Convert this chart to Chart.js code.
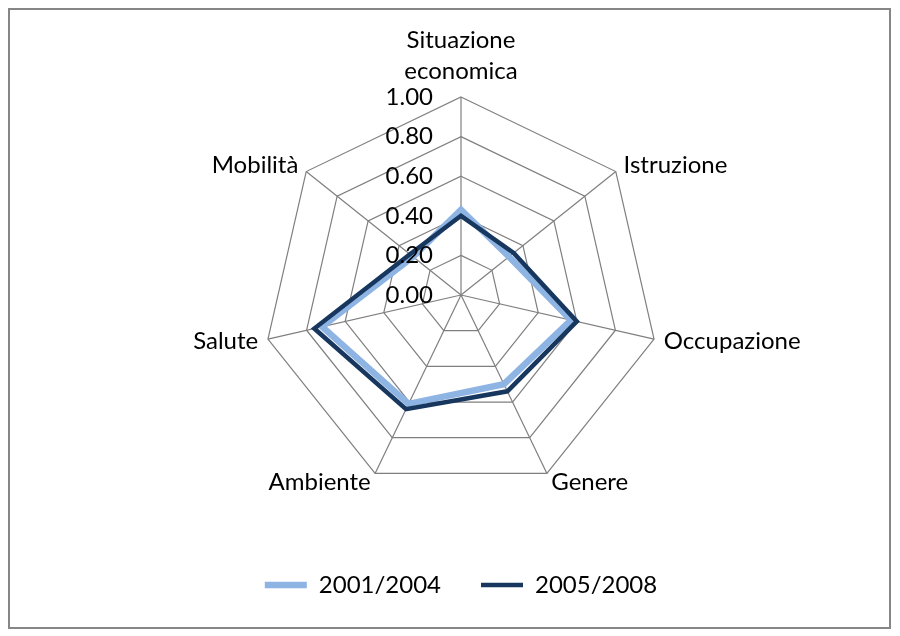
<!DOCTYPE html>
<html>
<head>
<meta charset="utf-8">
<script src="https://cdn.jsdelivr.net/npm/chart.js@4/dist/chart.umd.min.js"></script>
<style>
  html, body { margin: 0; padding: 0; background: #fff; }
</style>
</head>
<body>
<canvas id="radarChart" width="900" height="636"></canvas>
<script>
// Axes of the radar (first one is split on two lines)
const categories = [['Situazione', 'economica'], 'Istruzione', 'Occupazione', 'Genere', 'Ambiente', 'Salute', 'Mobilità'];

// Series values
const seriesNames = ['2001/2004', '2005/2008'];
const values2001 = [0.43, 0.31, 0.57, 0.50, 0.61, 0.72, 0.31];
const values2005 = [0.40, 0.34, 0.60, 0.54, 0.64, 0.76, 0.33];

// Radial tick labels
const tickValues = [0, 0.2, 0.4, 0.6, 0.8, 1.0];

const FONT = 'Lato, "Open Sans", sans-serif';

// Draws the frame, the axis labels and the tick labels (Excel style)
const excelLabels = {
  id: 'excelLabels',
  beforeDraw(chart) {
    const ctx = chart.ctx;
    ctx.save();
    ctx.strokeStyle = '#868686';
    ctx.lineWidth = 2;
    ctx.strokeRect(9, 9, 881, 619);
    ctx.restore();
  },
  afterDraw(chart) {
    const scale = chart.scales.r;
    const ctx = chart.ctx;
    ctx.save();
    ctx.fillStyle = '#000';
    ctx.font = '24px ' + FONT;

    // category labels just outside the outer ring
    categories.forEach((label, i) => {
      const p = scale.getPointPosition(i, scale.drawingArea + 10);
      const lines = Array.isArray(label) ? label : [label];
      if (Math.abs(p.x - scale.xCenter) < 1) {
        ctx.textAlign = 'center';
        ctx.textBaseline = 'alphabetic';
        for (let k = 0; k < lines.length; k++) {
          ctx.fillText(lines[lines.length - 1 - k], p.x, p.y - 8 - k * 31);
        }
      } else {
        ctx.textAlign = p.x > scale.xCenter ? 'left' : 'right';
        ctx.textBaseline = 'middle';
        ctx.fillText(lines[0], p.x, p.y);
      }
    });

    // tick labels on the left of the vertical axis
    ctx.textAlign = 'right';
    ctx.textBaseline = 'middle';
    scale.ticks.forEach(t => {
      const y = scale.yCenter - scale.getDistanceFromCenterForValue(t.value);
      ctx.fillText(t.value.toFixed(2), scale.xCenter - 28, y);
    });
    ctx.restore();
  }
};

const ctx = document.getElementById('radarChart').getContext('2d');
const chart = new Chart(ctx, {
  type: 'radar',
  data: {
    labels: categories,
    datasets: [
      {
        label: seriesNames[0],
        data: values2001,
        borderColor: '#8EB4E3',
        backgroundColor: '#8EB4E3',
        borderWidth: 6.5,
        fill: false,
        order: 1 // drawn below the dark line
      },
      {
        label: seriesNames[1],
        data: values2005,
        borderColor: '#17375E',
        backgroundColor: '#17375E',
        borderWidth: 4.5,
        fill: false,
        order: 0
      }
    ]
  },
  options: {
    responsive: false,
    animation: false,
    devicePixelRatio: 1,
    layout: {
      padding: { left: 22, right: 0, top: 97, bottom: 29 }
    },
    elements: {
      line: { tension: 0, borderJoinStyle: 'miter' },
      point: { radius: 0, hoverRadius: 0 }
    },
    scales: {
      r: {
        min: 0,
        max: 1,
        afterBuildTicks: (scale) => {
          scale.ticks = tickValues.map(v => ({ value: v }));
        },
        ticks: { display: false },
        pointLabels: { display: false },
        grid: { color: '#7f7f7f', lineWidth: 1.2, circular: false },
        angleLines: { color: '#7f7f7f', lineWidth: 1.2 }
      }
    },
    plugins: {
      tooltip: { enabled: false },
      legend: {
        position: 'bottom',
        title: { display: true, text: '', font: { size: 10 }, padding: { top: 0, bottom: 28 } },
        labels: {
          usePointStyle: true,
          pointStyle: 'line',
          pointStyleWidth: 42,
          padding: 40,
          color: '#000',
          font: { family: FONT, size: 24 },
          sort: (a, b) => a.datasetIndex - b.datasetIndex
        }
      }
    }
  },
  plugins: [excelLabels]
});
</script>
</body>
</html>
